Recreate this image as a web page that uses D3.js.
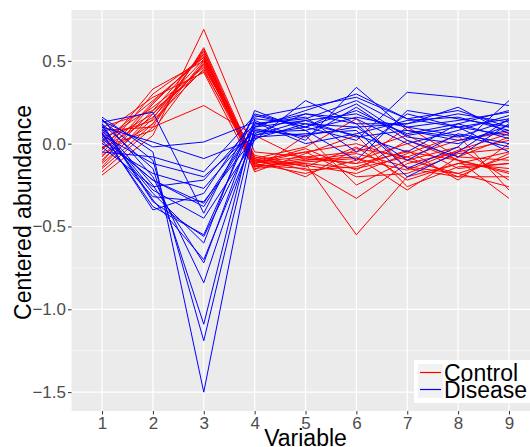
<!DOCTYPE html>
<html><head><meta charset="utf-8">
<script src="https://cdn.jsdelivr.net/npm/d3@7"></script>
<style>body{margin:0;background:#fff;}svg{display:block;font-family:"Liberation Sans",Arial,sans-serif;}</style>
</head><body>
<script>
const variables = ["1","2","3","4","5","6","7","8","9"];
const yTicks = [0.5, 0.0, -0.5, -1.0, -1.5];
const groups = ["Control","Disease"];
const groupColors = ["#FF0000","#0000FF"];

const controlSeries = [
  [-0.19, 0.05, 0.69, -0.05, -0.08, -0.12, -0.05, -0.10, -0.17],
  [-0.17, 0.10, 0.58, -0.10, -0.12, -0.55, -0.20, -0.12, -0.05],
  [-0.15, 0.12, 0.57, -0.12, -0.05, 0.00, -0.10, -0.18, -0.26],
  [-0.12, 0.15, 0.56, -0.14, -0.10, -0.08, -0.28, -0.08, -0.10],
  [-0.10, 0.20, 0.55, -0.13, -0.15, -0.33, -0.12, -0.05, 0.02],
  [-0.08, 0.25, 0.53, -0.09, -0.02, 0.15, -0.15, -0.20, -0.20],
  [-0.06, 0.30, 0.52, -0.11, -0.08, -0.05, 0.05, -0.10, -0.33],
  [-0.04, 0.33, 0.50, -0.15, -0.12, -0.15, -0.08, 0.02, 0.07],
  [-0.02, 0.08, 0.49, -0.12, -0.18, -0.10, 0.00, -0.15, -0.12],
  [0.00, 0.18, 0.47, -0.10, -0.05, -0.20, -0.18, -0.06, -0.03],
  [0.02, 0.22, 0.46, -0.07, -0.14, -0.02, -0.22, -0.12, -0.15],
  [0.04, 0.14, 0.45, -0.13, -0.09, -0.12, 0.10, -0.08, 0.04],
  [0.06, 0.28, 0.43, -0.16, 0.05, -0.25, -0.10, -0.02, -0.22],
  [0.08, 0.10, 0.23, 0.05, -0.10, -0.06, -0.14, -0.18, -0.08],
  [-0.14, 0.18, 0.51, -0.08, -0.16, -0.14, -0.04, -0.22, 0.00],
  [-0.11, 0.24, 0.54, -0.17, -0.06, 0.05, -0.26, -0.14, -0.12],
  [-0.03, 0.16, 0.48, -0.11, -0.13, -0.18, -0.06, 0.05, -0.28],
  [0.01, 0.26, 0.52, -0.14, -0.11, -0.09, -0.16, -0.04, 0.06],
  [0.10, 0.20, 0.44, -0.09, -0.20, -0.03, -0.08, -0.20, -0.06],
  [-0.07, 0.12, 0.50, -0.12, -0.03, -0.16, 0.02, -0.10, -0.18]
];
const diseaseSeries = [
  [0.16, -0.05, -1.50, 0.05, 0.10, 0.20, 0.05, 0.10, 0.15],
  [0.14, -0.10, -1.19, 0.10, 0.20, 0.30, 0.15, 0.10, 0.05],
  [0.12, -0.15, -1.09, 0.15, 0.12, 0.05, -0.05, 0.12, 0.20],
  [0.15, -0.20, -0.84, 0.08, 0.05, 0.10, 0.12, 0.18, 0.13],
  [0.10, -0.25, -0.72, 0.12, 0.15, 0.26, 0.10, 0.05, -0.02],
  [0.08, -0.30, -0.60, 0.20, 0.08, -0.10, 0.20, 0.15, 0.10],
  [0.11, -0.35, -0.56, 0.06, 0.18, 0.15, 0.00, 0.08, 0.17],
  [0.06, -0.38, -0.55, 0.14, 0.02, 0.34, 0.08, 0.02, 0.08],
  [0.09, -0.28, -0.45, 0.02, 0.26, 0.12, -0.15, -0.02, 0.26],
  [0.13, 0.19, -0.42, 0.18, 0.10, 0.02, 0.31, 0.28, 0.23],
  [0.04, -0.22, -0.38, 0.10, 0.14, 0.18, 0.06, 0.12, 0.03],
  [0.02, -0.32, -0.35, 0.04, 0.06, 0.08, -0.20, -0.05, 0.15],
  [0.07, -0.40, -0.30, 0.16, 0.22, 0.28, 0.15, 0.20, 0.10],
  [0.00, -0.18, -0.27, 0.09, 0.04, 0.22, 0.02, -0.08, 0.12],
  [-0.02, -0.26, -0.22, 0.12, 0.16, -0.05, 0.18, 0.10, -0.05],
  [0.05, -0.12, -0.20, 0.07, 0.08, 0.16, 0.10, 0.14, 0.19],
  [0.10, 0.01, -0.09, 0.03, 0.12, 0.10, -0.10, 0.06, 0.00],
  [0.14, -0.02, 0.01, 0.13, 0.00, 0.06, 0.14, 0.16, 0.08],
  [-0.05, -0.08, -0.17, 0.17, 0.10, 0.24, 0.04, 0.00, 0.11],
  [0.03, -0.22, -0.36, 0.11, 0.18, 0.12, 0.12, 0.22, 0.06],
  [0.12, -0.34, -0.70, 0.05, 0.14, 0.04, 0.08, 0.04, 0.14]
];

const W = 530, H = 447;
const panel = {left: 71.5, top: 10, right: 539.5, bottom: 411};

const svg = d3.select("body").append("svg").attr("width", W).attr("height", H);

const x = d3.scalePoint().domain(variables).range([panel.left, panel.right]).padding(0.6);
const y = d3.scaleLinear().domain([-1.614, 0.807]).range([panel.bottom, panel.top]);

svg.append("rect").attr("x", panel.left).attr("y", panel.top)
  .attr("width", panel.right - panel.left).attr("height", panel.bottom - panel.top)
  .attr("fill", "#EBEBEB");

const minor = [-1.25, -0.75, -0.25, 0.25, 0.75];
svg.append("g").selectAll("line").data(minor).join("line")
  .attr("x1", panel.left).attr("x2", panel.right)
  .attr("y1", d => y(d)).attr("y2", d => y(d))
  .attr("stroke", "#fff").attr("stroke-width", 0.6);
svg.append("g").selectAll("line").data(yTicks).join("line")
  .attr("x1", panel.left).attr("x2", panel.right)
  .attr("y1", d => y(d)).attr("y2", d => y(d))
  .attr("stroke", "#fff").attr("stroke-width", 1.2);
svg.append("g").selectAll("line").data(variables).join("line")
  .attr("x1", d => x(d)).attr("x2", d => x(d))
  .attr("y1", panel.top).attr("y2", panel.bottom)
  .attr("stroke", "#fff").attr("stroke-width", 1.2);

const line = d3.line().x((d, i) => x(variables[i])).y(d => y(d));
const lines = svg.append("g");
lines.selectAll("path.c").data(controlSeries).join("path").attr("class","c")
  .attr("d", line).attr("fill","none").attr("stroke", groupColors[0]).attr("stroke-width", 1);
lines.selectAll("path.d").data(diseaseSeries).join("path").attr("class","d")
  .attr("d", line).attr("fill","none").attr("stroke", groupColors[1]).attr("stroke-width", 1);

// axes
const yAxis = d3.axisLeft(y).tickValues(yTicks).tickSize(3.5).tickPadding(2)
  .tickFormat(d => d3.format(".1f")(d).replace("-", "\u2212"));
const gy = svg.append("g").attr("transform", `translate(${panel.left},0)`).call(yAxis);
gy.select(".domain").remove();
gy.selectAll("line").attr("stroke", "#333");
gy.selectAll("text").attr("fill", "#4D4D4D").attr("font-size", 17).attr("font-family", "Liberation Sans, Arial, sans-serif");

const xAxis = d3.axisBottom(x).tickSize(3.5).tickPadding(2);
const gx = svg.append("g").attr("transform", `translate(0,${panel.bottom})`).call(xAxis);
gx.select(".domain").remove();
gx.selectAll("line").attr("stroke", "#333");
gx.selectAll("text").attr("fill", "#4D4D4D").attr("font-size", 17).attr("font-family", "Liberation Sans, Arial, sans-serif");

svg.append("text").attr("x", (panel.left + panel.right) / 2).attr("y", 446)
  .attr("text-anchor", "middle").attr("font-size", 23).attr("fill", "#000").text("Variable");
svg.append("text").attr("transform", `translate(31,${(panel.top + panel.bottom) / 2 + 2}) rotate(-90)`)
  .attr("text-anchor", "middle").attr("font-size", 23).attr("fill", "#000").text("Centered abundance");

// legend
const lg = svg.append("g");
lg.append("rect").attr("x", 414).attr("y", 360).attr("width", 130).attr("height", 43).attr("fill", "#fff");
groups.forEach((g, i) => {
  const ky = 364 + i * 17;
  lg.append("rect").attr("x", 418).attr("y", ky).attr("width", 25).attr("height", 17).attr("fill", "#F2F2F2");
  lg.append("line").attr("x1", 420).attr("x2", 441).attr("y1", ky + 8.5).attr("y2", ky + 8.5)
    .attr("stroke", groupColors[i]).attr("stroke-width", 1.2);
  lg.append("text").attr("x", 444).attr("y", ky + 16.5).attr("font-size", 23).attr("fill", "#000").text(g);
});
</script>
</body></html>
